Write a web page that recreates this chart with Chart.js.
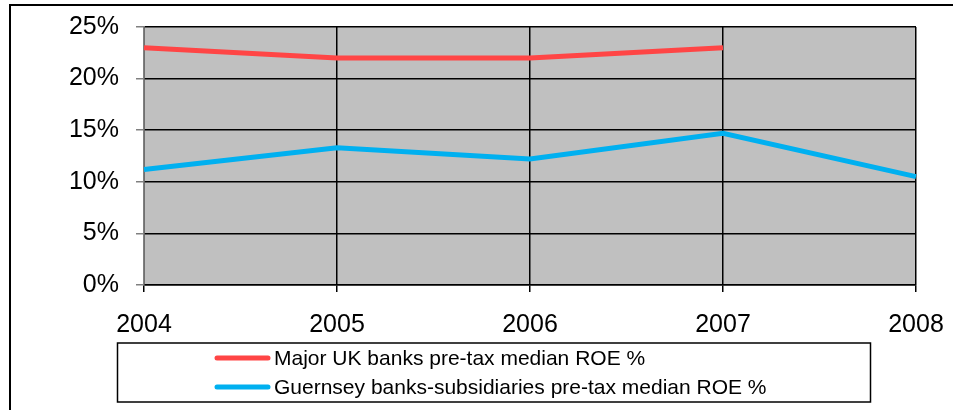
<!DOCTYPE html>
<html>
<head>
<meta charset="utf-8">
<script src="https://cdn.jsdelivr.net/npm/chart.js@4"></script>
<style>
html,body{margin:0;padding:0;background:#fff;}
#wrap{width:953px;height:410px;position:relative;}
</style>
</head>
<body>
<div id="wrap"><canvas id="c" width="953" height="410"></canvas></div>
<script>
const categories = ['2004', '2005', '2006', '2007', '2008'];
const ukBanks = [23, 22, 22, 23, null];
const guernseyBanks = [11.2, 13.3, 12.2, 14.7, 10.5];
const seriesLabels = ['Major UK banks pre-tax median ROE %', 'Guernsey banks-subsidiaries pre-tax median ROE %'];
const seriesColors = ['#FF4545', '#00B0F0'];
const yTicks = [0, 5, 10, 15, 20, 25];

const FONT = '"Liberation Sans", Arial, sans-serif';

const decor = {
  id: 'decor',
  beforeDraw(chart) {
    const {ctx, chartArea: a} = chart;
    ctx.save();
    ctx.fillStyle = '#C0C0C0';
    ctx.fillRect(a.left, a.top, a.right - a.left, a.bottom - a.top);
    ctx.strokeStyle = '#000';
    ctx.lineWidth = 2;
    ctx.beginPath();
    ctx.moveTo(10, 412);
    ctx.lineTo(10, 5);
    ctx.lineTo(960, 5);
    ctx.stroke();
    ctx.restore();
  },
  afterDraw(chart) {
    const {ctx} = chart;
    ctx.save();
    ctx.strokeStyle = '#000';
    ctx.lineWidth = 1.5;
    ctx.strokeRect(117.5, 343, 753, 59);
    const rows = [358, 387];
    chart.data.datasets.forEach((ds, i) => {
      const y = rows[i];
      ctx.strokeStyle = ds.borderColor;
      ctx.lineWidth = 5;
      ctx.lineCap = 'round';
      ctx.beginPath();
      ctx.moveTo(217, y);
      ctx.lineTo(268, y);
      ctx.stroke();
      ctx.fillStyle = '#000';
      ctx.font = '21px ' + FONT;
      ctx.textBaseline = 'middle';
      ctx.textAlign = 'left';
      ctx.fillText(ds.label, 274, y + 1);
    });
    ctx.restore();
  }
};

new Chart(document.getElementById('c'), {
  type: 'line',
  data: {
    labels: categories,
    datasets: [
      {label: seriesLabels[0], data: ukBanks, borderColor: seriesColors[0], backgroundColor: seriesColors[0], borderWidth: 5, pointRadius: 0, tension: 0, spanGaps: false},
      {label: seriesLabels[1], data: guernseyBanks, borderColor: seriesColors[1], backgroundColor: seriesColors[1], borderWidth: 5, pointRadius: 0, tension: 0}
    ]
  },
  options: {
    responsive: false,
    animation: false,
    devicePixelRatio: 1,
    layout: {padding: {top: 27, right: 37, left: 0, bottom: 0}},
    plugins: {legend: {display: false}, tooltip: {enabled: false}},
    scales: {
      x: {
        offset: false,
        grid: {color: '#000', lineWidth: 1.5, tickColor: '#000', tickLength: 7, drawTicks: true},
        border: {color: '#000', width: 1.5},
        ticks: {color: '#000', font: {family: FONT, size: 25}, padding: 18, maxRotation: 0, autoSkip: false},
        afterFit(s) { s.height = 125; s.paddingLeft = 0; s.paddingRight = 0; }
      },
      y: {
        min: 0, max: 25,
        afterBuildTicks(s) { s.ticks = yTicks.map(v => ({value: v})); },
        grid: {color: '#000', lineWidth: 1.5, tickColor: '#808080', tickLength: 8},
        border: {color: '#808080', width: 1.5},
        ticks: {color: '#000', font: {family: FONT, size: 25}, padding: 17, callback: v => v + '%'},
        afterFit(s) { s.width = 144; s.paddingTop = 0; s.paddingBottom = 0; }
      }
    }
  },
  plugins: [decor]
});
</script>
</body>
</html>
